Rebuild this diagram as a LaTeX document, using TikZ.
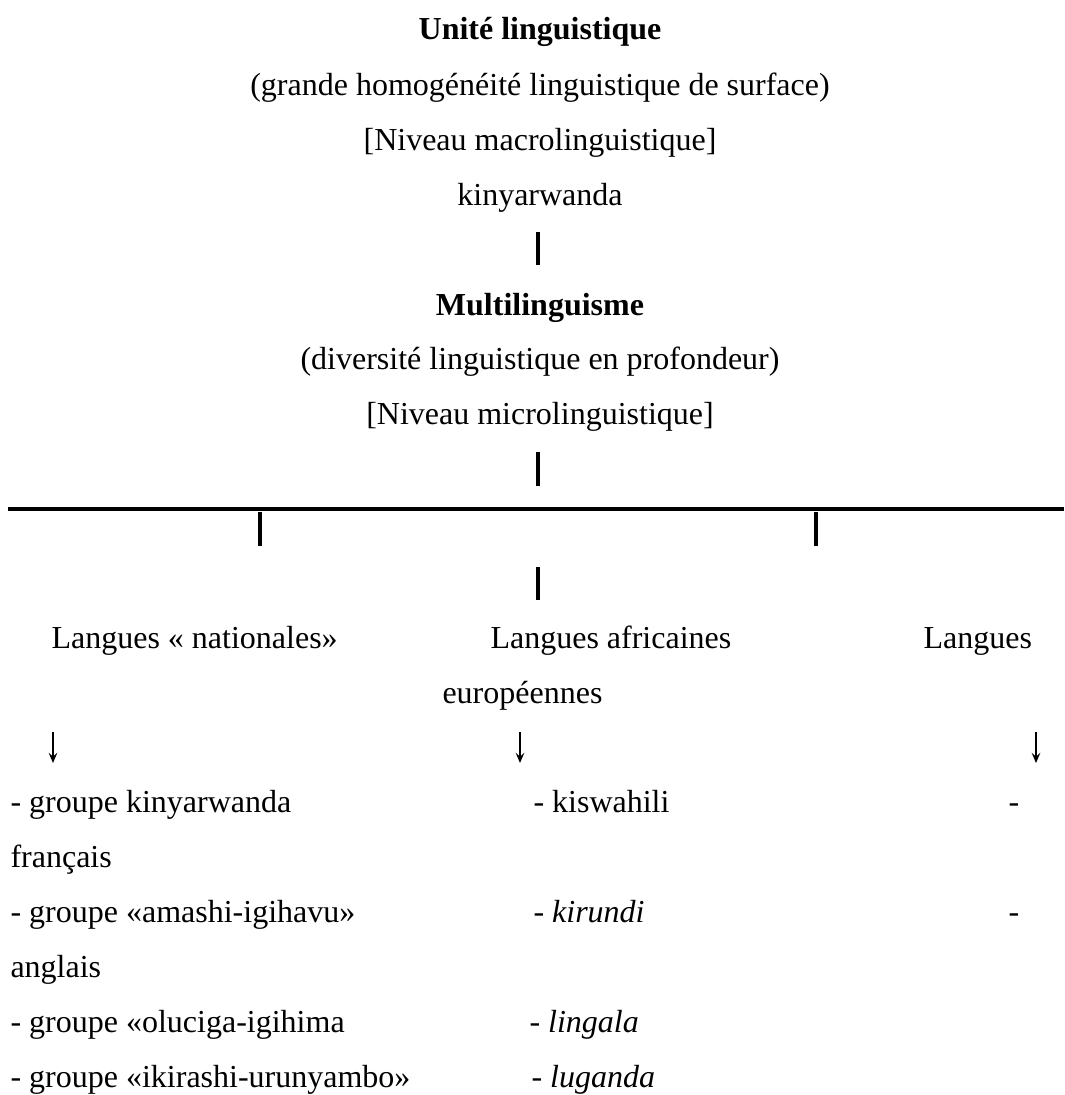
\documentclass[tikz,border=0pt]{standalone}
\usepackage{fontspec}
\setmainfont{Liberation Serif}
\usetikzlibrary{arrows.meta}

\tikzset{
  txt/.style={inner sep=0pt, anchor=base, font=\fontsize{12pt}{14pt}\selectfont},
  lft/.style={txt, anchor=base west},
  bar/.style={line width=1.25pt},
  rule/.style={line width=1.6pt},
  down/.style={line width=0.65pt, -{Stealth[length=3.8pt,width=3.2pt,inset=1.4pt]}}
}

\begin{document}
\begin{tikzpicture}[x=0.375pt, y=-0.375pt]
\useasboundingbox (0,0) rectangle (1064,1095);
% upper level
\node[txt] (unite) at (540,40) {\textbf{Unité linguistique}};
\node[txt] (homog) at (540,96) {(grande homogénéité linguistique de surface)};
\node[txt] (macro) at (540,151) {[Niveau macrolinguistique]};
\node[txt] (kinya) at (540,206) {kinyarwanda};
\coordinate (b1t) at (538,232); \coordinate (b1b) at (538,265);
\draw[bar] (b1t) -- (b1b);
% lower level
\node[txt] (multi) at (540,315) {\textbf{Multilinguisme}};
\node[txt] (diver) at (540,369) {(diversité linguistique en profondeur)};
\node[txt] (micro) at (540,424) {[Niveau microlinguistique]};
\coordinate (b2t) at (538,452); \coordinate (b2b) at (538,486);
\draw[bar] (b2t) -- (b2b);
\coordinate (rl) at (8,509); \coordinate (rr) at (1064,509);
\draw[rule] (rl) -- (rr);
\coordinate (bLt) at (260,512); \coordinate (bLb) at (260,546);
\coordinate (bRt) at (816,512); \coordinate (bRb) at (816,546);
\coordinate (bCt) at (538,567); \coordinate (bCb) at (538,600);
\draw[bar] (bLt) -- (bLb);
\draw[bar] (bRt) -- (bRb);
\draw[bar] (bCt) -- (bCb);
% the three groups
\node[lft] (nat) at (51,648) {Langues « nationales»};
\node[lft] (afr) at (490,648) {Langues africaines};
\node[lft] (eur) at (923,648) {Langues};
\node[lft] (eur2) at (442,703) {européennes};
\coordinate (a1t) at (53,732); \coordinate (a1b) at (53,763);
\coordinate (a2t) at (520,732); \coordinate (a2b) at (520,763);
\coordinate (a3t) at (1036,732); \coordinate (a3b) at (1036,763);
\draw[down] (a1t) -- (a1b);
\draw[down] (a2t) -- (a2b);
\draw[down] (a3t) -- (a3b);
% lists
\node[lft] (g1) at (10,812) {- groupe kinyarwanda};
\node[lft] (fr) at (10,867) {français};
\node[lft] (g2) at (10,922) {- groupe «amashi-igihavu»};
\node[lft] (en) at (10,977) {anglais};
\node[lft] (g3) at (10,1032) {- groupe «oluciga-igihima};
\node[lft] (g4) at (10,1087) {- groupe «ikirashi-urunyambo»};
\node[lft] (kisw) at (533,812) {- kiswahili};
\node[lft] (kiru) at (533,922) {- \textit{kirundi}};
\node[lft] (ling) at (529,1032) {- \textit{lingala}};
\node[lft] (luga) at (531,1087) {- \textit{luganda}};
\node[lft] (d1) at (1008,812) {-};
\node[lft] (d2) at (1008,922) {-};
\end{tikzpicture}
\end{document}
